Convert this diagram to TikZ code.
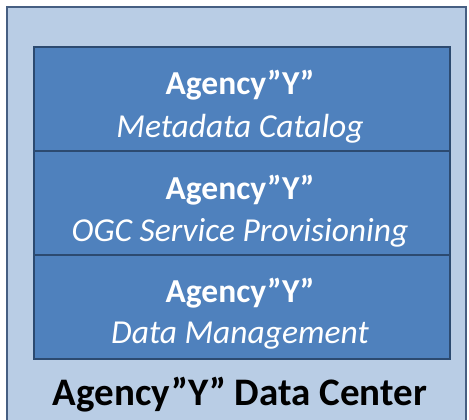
\documentclass[tikz,border=0pt]{standalone}
\usepackage{fontspec}
\setmainfont{Carlito}
\begin{document}
\begin{tikzpicture}[x=1pt,y=-1pt,
  outerbox/.style={draw=outerline,fill=outerfill,line width=2pt},
  layerbox/.style={draw=innerline,fill=innerfill,line width=1.6pt,minimum width=416pt,minimum height=104pt,inner sep=0pt,anchor=north west},
  headtext/.style={text=white,anchor=base,inner sep=0pt,font=\fontsize{33.5}{40}\selectfont\bfseries},
  subtext/.style={text=white,anchor=base,inner sep=0pt,font=\fontsize{33.5}{40}\selectfont\itshape}]
\definecolor{outerfill}{RGB}{185,205,229}
\definecolor{outerline}{RGB}{70,95,130}
\definecolor{innerfill}{RGB}{79,129,189}
\definecolor{innerline}{RGB}{44,74,112}
\useasboundingbox (0,0) rectangle (469,420);
\fill[white] (0,0) rectangle (469,420);
\draw[outerbox] (7,7) rectangle (466,421);
\node[layerbox] (cat) at (33,46) {};
\node[layerbox] (ogc) at (33,150) {};
\node[layerbox] (dm) at (33,254) {};
\node[headtext] (cathead) at (240,95) {Agency”Y”};
\node[subtext] (catsub) at (240,137) {Metadata Catalog};
\node[headtext] (ogchead) at (240,199) {Agency”Y”};
\node[subtext] (ogcsub) at (240,241) {OGC Service Provisioning};
\node[headtext] (dmhead) at (240,302) {Agency”Y”};
\node[subtext] (dmsub) at (240,343) {Data Management};
\node[anchor=base,inner sep=0pt,font=\fontsize{39}{46}\selectfont\bfseries] (title) at (240,405) {Agency”Y” Data Center};
\end{tikzpicture}
\end{document}
